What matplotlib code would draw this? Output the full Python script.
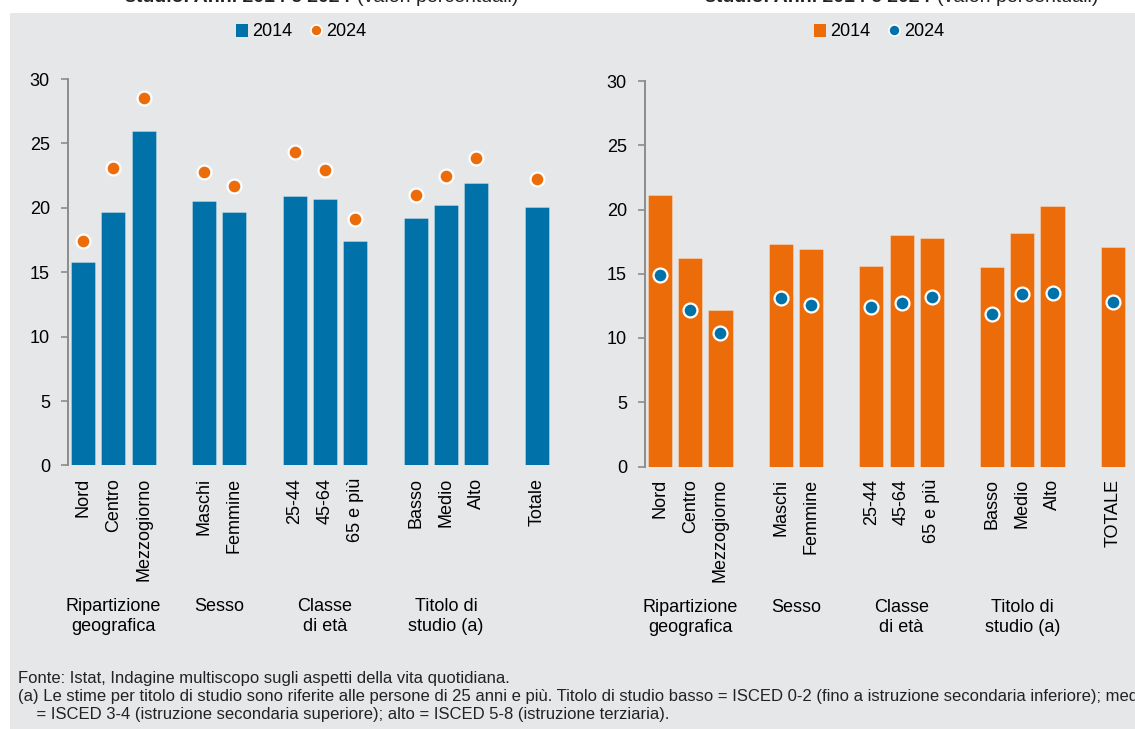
import matplotlib
matplotlib.use("Agg")
import matplotlib.pyplot as plt
from matplotlib.patches import Rectangle
from matplotlib.lines import Line2D
from matplotlib.patches import Patch

plt.rcParams['font.family'] = ['Liberation Sans', 'DejaVu Sans']

# data
positions = [0, 1, 2, 4, 5, 7, 8, 9, 11, 12, 13, 15]
labels_left = ["Nord", "Centro", "Mezzogiorno", "Maschi", "Femmine",
               "25-44", "45-64", "65 e più", "Basso", "Medio", "Alto", "Totale"]
labels_right = labels_left[:-1] + ["TOTALE"]
groups = ["Ripartizione\ngeografica", "Sesso", "Classe\ndi età", "Titolo di\nstudio (a)"]
group_pos = [1, 4.5, 8, 12]

left_2014 = [15.8, 19.7, 26.0, 20.5, 19.7, 20.9, 20.7, 17.4, 19.2, 20.2, 21.9, 20.1]
left_2024 = [17.4, 23.1, 28.5, 22.8, 21.7, 24.3, 22.9, 19.1, 21.0, 22.5, 23.9, 22.2]
right_2014 = [21.1, 16.2, 12.2, 17.3, 16.9, 15.6, 18.0, 17.8, 15.5, 18.2, 20.3, 17.1]
right_2024 = [14.9, 12.2, 10.4, 13.1, 12.6, 12.4, 12.7, 13.2, 11.9, 13.4, 13.5, 12.8]

blue = "#0071a9"
orange = "#ec6c09"
bg = "#e6e7e9"

fig = plt.figure(figsize=(11.35, 7.29), dpi=100)
fig.patches.append(Rectangle((10 / 1135, 0), 1, 1 - 13 / 729, transform=fig.transFigure,
                             facecolor=bg, edgecolor="none", zorder=-10))

# cut-off titles at the top
for x0, x1 in [(125, 357), (705, 937)]:
    fig.text(x0 / 1135, 1.004, "studio. Anni 2014 e 2024", fontsize=14, fontweight="bold",
             va="center", ha="left", color="#222222")
    fig.text(x1 / 1135, 1.004, "(valori percentuali)", fontsize=14,
             va="center", ha="left", color="#222222")


def panel(rect, bars, dots, bar_col, dot_col, ticklabels, leg_x):
    ax = fig.add_axes(rect)
    ax.set_facecolor("none")
    ax.bar(positions, bars, width=0.8, color=bar_col, edgecolor=(1, 1, 1, 0.35), linewidth=0.6, zorder=2)
    ax.plot(positions, dots, linestyle="none", marker="o", markersize=10,
            markerfacecolor=dot_col, markeredgecolor="white", markeredgewidth=1.6, zorder=3)
    ax.set_xlim(-0.5, 15.5)
    ax.set_ylim(0, 30)
    ax.set_yticks([0, 5, 10, 15, 20, 25, 30])
    for s in ["top", "right", "bottom"]:
        ax.spines[s].set_visible(False)
    ax.spines["left"].set_color("#8c8c8c")
    ax.spines["left"].set_linewidth(1.4)
    ax.tick_params(axis="y", length=5, width=1.2, color="#8c8c8c", labelsize=13, pad=8)
    ax.set_xticks(positions)
    ax.set_xticklabels(ticklabels, rotation=90, fontsize=13)
    ax.tick_params(axis="x", length=0, pad=9)
    for g, p in zip(groups, group_pos):
        ax.text(p, -0.343, g, transform=ax.get_xaxis_transform(), ha="center", va="top",
                fontsize=13, linespacing=1.25)
    handles = [Patch(facecolor=bar_col, edgecolor="none"),
               Line2D([], [], linestyle="none", marker="o", markersize=8,
                      markerfacecolor=dot_col, markeredgecolor="white", markeredgewidth=1.2)]
    fig.legend(handles, ["2014", "2024"], loc="center", bbox_to_anchor=(leg_x, 1 - 32 / 729),
               ncol=2, frameon=False, fontsize=13, handlelength=0.7, handleheight=0.7,
               handletextpad=0.2, columnspacing=1.0)
    return ax


panel([68 / 1135, 1 - 465.4 / 729, 484 / 1135, 386.4 / 729], left_2014, left_2024,
      blue, orange, labels_left, 301 / 1135)
panel([645 / 1135, 1 - 466.5 / 729, 483 / 1135, 385.5 / 729], right_2014, right_2024,
      orange, blue, labels_right, 879 / 1135)

foot = ["Fonte: Istat, Indagine multiscopo sugli aspetti della vita quotidiana.",
        "(a) Le stime per titolo di studio sono riferite alle persone di 25 anni e più. Titolo di studio basso = ISCED 0-2 (fino a istruzione secondaria inferiore); medio",
        "    = ISCED 3-4 (istruzione secondaria superiore); alto = ISCED 5-8 (istruzione terziaria)."]
for i, line in enumerate(foot):
    fig.text(18 / 1135, 1 - (678 + 18 * i) / 729, line, fontsize=12, va="center", ha="left",
             family=["Liberation Sans Narrow", "DejaVu Sans Condensed", "Liberation Sans"],
             color="#222222")

fig.savefig("out.png", dpi=100)
